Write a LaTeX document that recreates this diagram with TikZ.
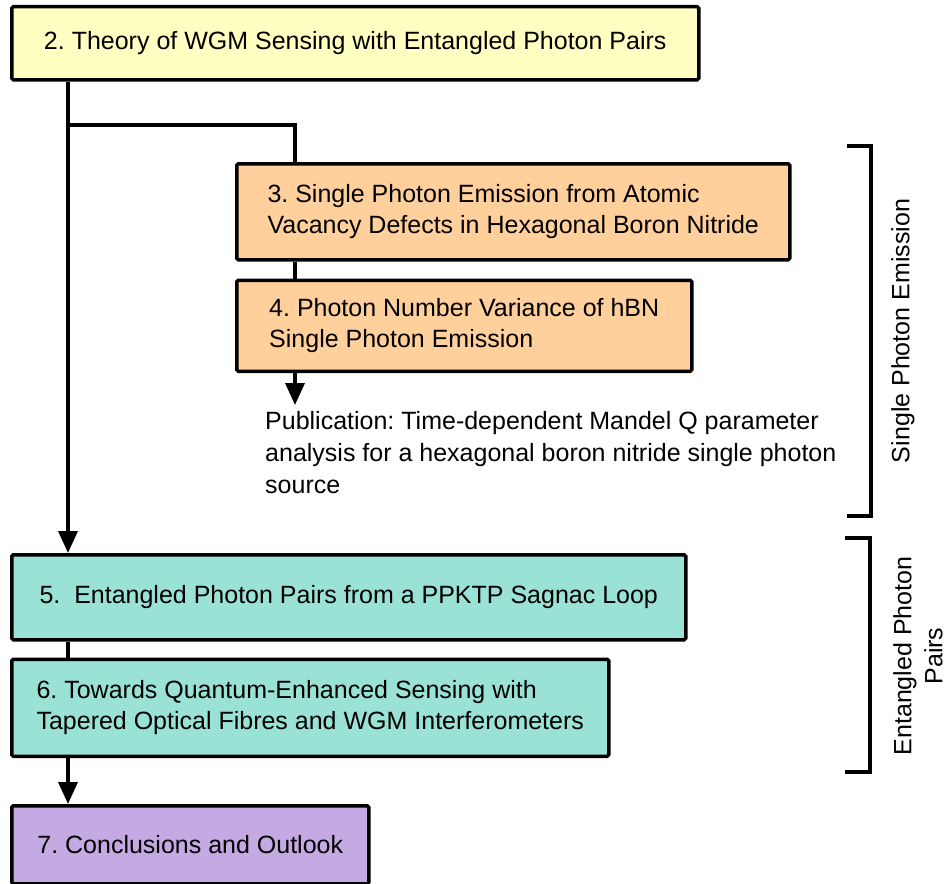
\documentclass[tikz,border=0pt]{standalone}
\usepackage{fontspec}
\setmainfont{Liberation Sans}
\usepackage{tikz}
\usetikzlibrary{positioning,arrows.meta}
\frenchspacing
\definecolor{thYellow}{HTML}{FFFFC2}
\definecolor{thOrange}{HTML}{FFD09B}
\definecolor{thTeal}{HTML}{9AE2D5}
\definecolor{thPurple}{HTML}{C4A9E3}
\tikzset{
  block/.style={draw, line width=3.5pt, rounded corners=1.5pt, anchor=north west, inner xsep=0pt, inner ysep=0pt, align=left, font=\fontsize{25}{31}\selectfont},
  blockYellow/.style={block, fill=thYellow},
  blockOrange/.style={block, fill=thOrange},
  blockTeal/.style={block, fill=thTeal},
  blockPurple/.style={block, fill=thPurple},
  link/.style={line width=3.5pt},
  arrow/.style={-{Triangle[length=22pt, width=19pt]}, line width=3.5pt},
  bracket/.style={line width=3.5pt},
  sideLabel/.style={rotate=90, align=center, font=\fontsize{25}{31}\selectfont},
  pubText/.style={anchor=north west, inner sep=0pt, align=left, font=\fontsize{25}{32}\selectfont}
}
\begin{document}
\begin{tikzpicture}[x=1pt, y=1pt]
  \useasboundingbox (0,0) rectangle (947,-883);

  \node[blockYellow, minimum width=687pt, minimum height=73pt] (theory) at (10,-5) {2. Theory of WGM Sensing with Entangled Photon Pairs};
  \node[blockOrange, minimum width=553pt, minimum height=96pt] (emission) at (235,-162) {3. Single Photon Emission from Atomic\\Vacancy Defects in Hexagonal Boron Nitride};
  \node[blockOrange, below right=17pt and 0pt of emission.south west, minimum width=455pt, minimum height=91pt] (variance) {4. Photon Number Variance of hBN\\Single Photon Emission};
  \node[pubText] (pub) at (265,-411) {Publication: Time-dependent Mandel Q parameter\\analysis for a hexagonal boron nitride single photon\\source};
  \node[blockTeal, minimum width=674pt, minimum height=85pt] (sagnac) at (10,-553) {5.\ \ Entangled Photon Pairs from a PPKTP Sagnac Loop};
  \node[blockTeal, below right=16pt and 0pt of sagnac.south west, minimum width=597pt, minimum height=97pt] (towards) {6. Towards Quantum-Enhanced Sensing with\\Tapered Optical Fibres and WGM Interferometers};
  \node[blockPurple, minimum width=357pt, minimum height=78pt] (concl) at (10,-804) {7. Conclusions and Outlook};

  % connectors
  \coordinate (split) at (68,-125);
  \draw[arrow] ([xshift=58pt]theory.south west) -- ([xshift=58pt]sagnac.north west);
  \draw[link] (split) -| ([xshift=60pt]emission.north west);
  \draw[link] ([xshift=60pt]emission.south west) -- ([xshift=60pt]variance.north west);
  \draw[arrow, shorten >=6pt] ([xshift=60pt]variance.south west) -- ([xshift=30pt]pub.north west);
  \draw[link] ([xshift=58pt]sagnac.south west) -- ([xshift=58pt]towards.north west);
  \draw[arrow] ([xshift=58pt]towards.south west) -- ([xshift=58pt]concl.north west);

  % side brackets
  \coordinate (speTop) at (847,-146);
  \coordinate (speBot) at (847,-516);
  \coordinate (eppTop) at (845,-538);
  \coordinate (eppBot) at (845,-772);
  \draw[bracket] (speTop) -- ++(24,0) |- (speBot);
  \draw[bracket] (eppTop) -- ++(25,0) |- (eppBot);
  \node[sideLabel] (speLabel) at (903,-331) {Single Photon Emission};
  \node[sideLabel] (eppLabel) at (918,-656) {Entangled Photon\\Pairs};
\end{tikzpicture}
\end{document}
